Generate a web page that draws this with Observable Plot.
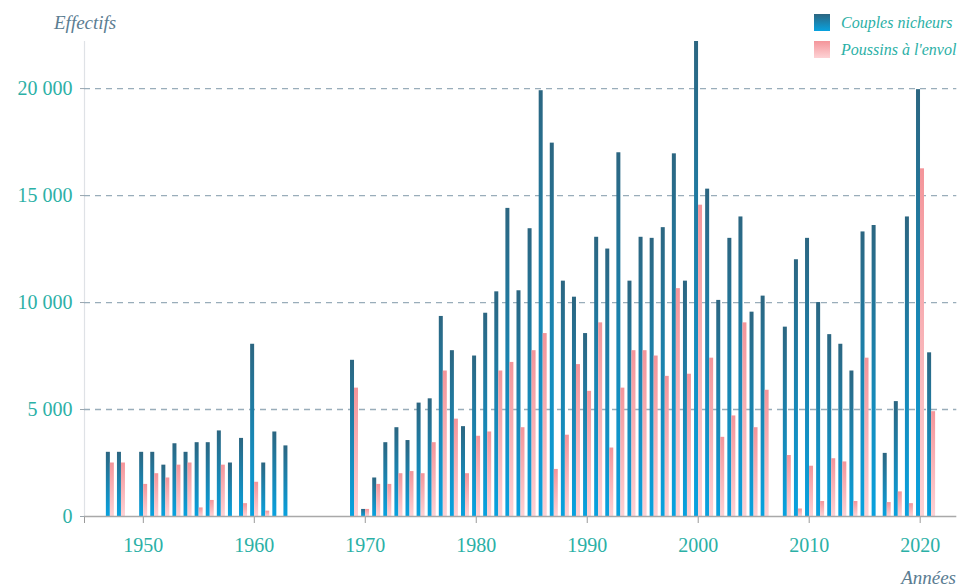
<!DOCTYPE html>
<html><head><meta charset="utf-8">
<script src="https://cdn.jsdelivr.net/npm/d3@7"></script>
<script src="https://cdn.jsdelivr.net/npm/@observablehq/plot@0.6"></script>
<style>
body{margin:0;background:#fff;}
#wrap{width:961px;height:587px;}
</style></head><body><div id="wrap"></div>
<script>
const years = [1947,1948,1950,1951,1952,1953,1954,1955,1956,1957,1958,1959,1960,1961,1962,1963,
  1969,1970,1971,1972,1973,1974,1975,1976,1977,1978,1979,1980,1981,1982,1983,1984,1985,1986,1987,1988,1989,
  1990,1991,1992,1993,1994,1995,1996,1997,1998,1999,2000,2001,2002,2003,2004,2005,2006,
  2008,2009,2010,2011,2012,2013,2014,2015,2016,2017,2018,2019,2020,2021];
const couples = [3000,3000,3000,3000,2400,3400,3000,3450,3450,4000,2500,3650,8050,2500,3950,3300,
  7300,330,1800,3450,4150,3550,5300,5500,9350,7750,4200,7500,9500,10500,14400,10550,13450,19900,17450,11000,10250,
  8550,13050,12500,17000,11000,13050,13000,13500,16950,11000,22200,15300,10100,13000,14000,9550,10300,
  8850,12000,13000,10000,8500,8050,6800,13300,13600,2950,5370,14000,19950,7650];
const poussins = [2500,2500,1500,2000,1800,2400,2500,400,750,2400,null,600,1600,250,null,null,
  6000,330,1500,1500,2000,2100,2000,3450,6800,4550,2000,3750,3950,6800,7200,4150,7750,8550,2200,3800,7100,
  5850,9050,3200,6000,7750,7750,7500,6550,10650,6650,14550,7400,3700,4700,9050,4150,5900,
  2850,350,2350,700,2700,2550,700,7400,null,650,1150,600,16250,4900];
const seriesNames = ["Couples nicheurs", "Poussins à l'envol"];
const yTicks = [0, 5000, 10000, 15000, 20000];
const xTicks = [1950, 1960, 1970, 1980, 1990, 2000, 2010, 2020];
const xDomain = [1944.7, 2023.3];
const yDomain = [0, 22200];

const teal = "#2bb0a6";
const slate = "#5b7d92";

const data = years.map((y, i) => ({year: y, couples: couples[i], poussins: poussins[i]}));
const fmt = d => d3.format(",")(d).replace(/,/g, "\u00a0");

const chart = Plot.plot({
  width: 961, height: 587,
  marginLeft: 84, marginRight: 4.7, marginTop: 41, marginBottom: 71,
  style: {fontFamily: "'Liberation Serif', serif", fontSize: "20px", background: "#fff"},
  x: {domain: xDomain},
  y: {domain: yDomain},
  marks: [
    Plot.ruleX([xDomain[0]], {stroke: "#dfe2e6", strokeWidth: 1.2}),
    Plot.gridY(yTicks.filter(d => d > 0), {stroke: "#8ea4b3", strokeOpacity: 0.9, strokeWidth: 1.3, strokeDasharray: "6,5"}),
    Plot.axisY({ticks: yTicks, tickFormat: fmt, tickSize: 4, tickPadding: 8, stroke: "#9aa5ad", fill: teal, label: null, fontSize: 20}),
    Plot.axisX({ticks: xTicks, tickFormat: d => String(d), tickSize: 7, tickPadding: 14, stroke: "#9a9a9a", fill: teal, label: null, fontSize: 20}),
    Plot.axisX({ticks: [xDomain[0]], tickFormat: () => "", tickSize: 7, stroke: "#9a9a9a", label: null}),
    Plot.rectY(data.filter(d => d.couples != null), {x1: d => d.year - 0.33, x2: d => d.year + 0.03, y1: 0, y2: "couples", fill: "url(#gBlue)"}),
    Plot.rectY(data.filter(d => d.poussins != null), {x1: d => d.year + 0.03, x2: d => d.year + 0.39, y1: 0, y2: "poussins", fill: "url(#gPink)"}),
    Plot.ruleY([0], {stroke: "#a9a9a9", strokeWidth: 1.5})
  ]
});

const svg = d3.select(chart);
const defs = svg.insert("defs", ":first-child");
function grad(id, c0, c1) {
  const g = defs.append("linearGradient").attr("id", id).attr("x1", 0).attr("y1", 0).attr("x2", 0).attr("y2", 1);
  g.append("stop").attr("offset", "0%").attr("stop-color", c0);
  g.append("stop").attr("offset", "100%").attr("stop-color", c1);
}
grad("gBlue", "#2c6681", "#08a2df");
grad("gPink", "#f4959a", "#fdd2d5");

// axis titles
svg.append("text").attr("x", 54).attr("y", 29).attr("fill", slate).attr("text-anchor", "start")
  .attr("font-style", "italic").attr("font-size", 19).text("Effectifs");
svg.append("text").attr("x", 956).attr("y", 584).attr("text-anchor", "end").attr("fill", slate)
  .attr("font-style", "italic").attr("font-size", 19).text("Années");

// legend
const lg = svg.append("g").attr("text-anchor", "start");
seriesNames.forEach((name, i) => {
  lg.append("rect").attr("x", 814).attr("y", 14 + i * 27).attr("width", 16).attr("height", 17)
    .attr("fill", i === 0 ? "url(#gBlue)" : "url(#gPink)");
  lg.append("text").attr("x", 841).attr("y", 28 + i * 26.5).attr("fill", teal).attr("text-anchor", "start")
    .attr("font-style", "italic").attr("font-size", 16).text(name);
});

document.getElementById("wrap").appendChild(chart);
</script>
</body></html>
